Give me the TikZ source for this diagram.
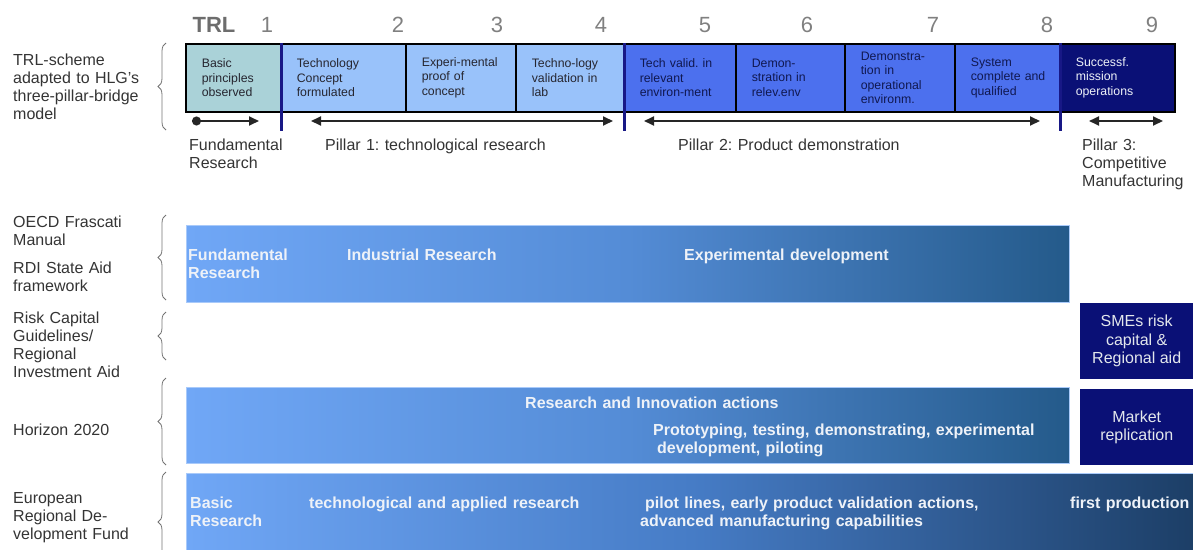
\documentclass[tikz,border=0pt]{standalone}
\usepackage{fontspec}
\setmainfont{Liberation Sans}
\usetikzlibrary{arrows.meta,positioning,decorations.pathreplacing}
\definecolor{trlteal}{RGB}{170,210,216}
\definecolor{trllight}{RGB}{153,194,250}
\definecolor{trlmid}{RGB}{76,112,238}
\definecolor{trlnavy}{RGB}{10,16,118}
\definecolor{pillarline}{RGB}{24,24,134}
\definecolor{barleft}{RGB}{112,167,246}
\definecolor{barmid}{RGB}{84,140,214}
\definecolor{barright}{RGB}{36,90,138}
\definecolor{erdfmid}{RGB}{70,124,198}
\definecolor{erdfright}{RGB}{28,62,102}
\definecolor{bartext}{RGB}{238,242,248}
\definecolor{labelgray}{RGB}{52,52,52}
\definecolor{numgray}{RGB}{128,128,128}
\definecolor{boxtext}{RGB}{38,38,48}
\definecolor{midtext}{RGB}{16,24,80}

\begin{document}
\frenchspacing
\hbadness=10000 \hfuzz=50pt
\begin{tikzpicture}[x=1pt,y=-1pt,
    trl node/.style={draw=black,line width=1.6pt,anchor=north west,inner xsep=16pt,inner ysep=0pt,
                     minimum height=68pt,align=left,font=\fontsize{12.3}{14.3}\selectfont},
    num node/.style={font=\fontsize{22}{22}\selectfont,text=numgray},
    side label/.style={anchor=base west,inner sep=0pt,text width=320pt,align=left,text=labelgray,
                       font=\fontsize{16}{18}\selectfont},
    bar node/.style={anchor=north west,inner sep=0pt,draw=barleft!60!white,line width=0.8pt},
    bar text/.style={anchor=base west,inner sep=0pt,text width=500pt,align=left,text=bartext,
                     font=\bfseries\fontsize{16}{17.5}\selectfont},
    aid node/.style={anchor=north west,inner sep=0pt,fill=trlnavy,text=bartext!90!gray,align=center,
                     minimum width=113pt,minimum height=76pt,font=\fontsize{16}{18.5}\selectfont},
    pillar arrow/.style={line width=1.8pt,black!85,{Triangle[length=10pt,width=9pt]}-{Triangle[length=10pt,width=9pt]}},
    pillar line/.style={line width=2.6pt,pillarline},
    side brace/.style={decorate,decoration={brace,amplitude=8pt},line width=0.8pt,black!55}]

\useasboundingbox (0,0) rectangle (1193,549);

\node[num node,font=\bfseries\fontsize{22}{22}\selectfont,text=numgray!85!black] (trl) at (214,25) {TRL};
\foreach \k/\xn in {1/267,2/398,3/497,4/601,5/705,6/807,7/933,8/1047,9/1152}
   \node[num node] (trl\k) at (\xn,25) {\k};

\foreach \n/\xa/\xb/\col/\tcol/\txt in {
   1/185/280/trlteal/boxtext/{Basic\\principles\\observed},
   2/280/405/trllight/boxtext/{Technology\\Concept\\formulated},
   3/405/515/trllight/boxtext/{Experi-mental\\proof~of\\concept},
   4/515/623/trllight/boxtext/{Techno-logy\\validation~in\\lab},
   5/623/735/trlmid/midtext/{Tech~valid.~in\\relevant\\environ-ment},
   6/735/844/trlmid/midtext/{Demon-\\stration~in\\relev.env},
   7/844/954/trlmid/midtext/{Demonstra-\\tion~in\\operational\\environm.},
   8/954/1059/trlmid/midtext/{System\\complete~and\\qualified},
   9/1059/1174/trlnavy/bartext/{Successf.\\mission\\operations}}
  {\pgfmathsetmacro{\boxw}{\xb-\xa-32}
   \node[trl node,fill=\col,text=\tcol,text width=\boxw pt] (box\n) at (\xa,43) {\txt};}

\foreach \n in {1,4,8}
   \draw[pillar line] (box\n.north east) -- ([yshift=-18pt]box\n.south east);

\coordinate (fund a) at (192,121);
\coordinate (fund b) at (259,121);
\coordinate (p1 a) at (311,121);
\coordinate (p1 b) at (613,121);
\coordinate (p2 a) at (644,121);
\coordinate (p2 b) at (1040,121);
\coordinate (p3 a) at (1089,121);
\coordinate (p3 b) at (1163,121);
\draw[line width=1.8pt,black!85,{Circle[length=9pt]}-{Triangle[length=10pt,width=9pt]}] (fund a) -- (fund b);
\draw[pillar arrow] (p1 a) -- (p1 b);
\draw[pillar arrow] (p2 a) -- (p2 b);
\draw[pillar arrow] (p3 a) -- (p3 b);

\node[side label] (fundlbl) at (189,150.5) {Fundamental\\Research};
\node[side label] (p1lbl) at (325,150.5) {Pillar 1: technological research};
\node[side label] (p2lbl) at (678,150.5) {Pillar 2: Product demonstration};
\node[side label] (p3lbl) at (1082,150.5) {Pillar 3:\\Competitive\\Manufacturing};

\node[side label] (trlscheme) at (13,65.5) {TRL-scheme\\adapted to HLG's\\three-pillar-bridge\\model};
\node[side label] (oecd) at (13,227.5) {OECD Frascati\\Manual};
\node[side label] (rdi) at (13,273.5) {RDI State Aid\\framework};
\node[side label] (riskcap) at (13,323.5) {Risk Capital\\Guidelines/\\Regional\\Investment Aid};
\node[side label] (horizon) at (13,435.5) {Horizon 2020};
\node[side label] (erdf) at (13,503.5) {European\\Regional De-\\velopment Fund};

\foreach \ya/\yb in {43/130,215/300,312/360,378/465,472/572}
   \draw[side brace] (166,\yb) -- (166,\ya);

\node[bar node,left color=barleft,right color=barright,middle color=barmid,
      minimum width=883pt,minimum height=77pt] (oecdbar) at (186,225) {};
\node[bar node,left color=barleft,right color=barright,middle color=barmid,
      minimum width=883pt,minimum height=76pt] (h2020bar) at (186,387) {};
\node[bar node,left color=barleft,right color=erdfright,middle color=erdfmid,
      minimum width=1010pt,minimum height=80pt] (erdfbar) at (186,473) {};

\node[aid node] (smes) at (1080,303) {SMEs risk\\capital \&\\Regional aid};
\node[aid node] (market) at (1080,389) {Market\\replication};

\node[bar text] (fundres) at (188,260.5) {Fundamental\\Research};
\node[bar text] (indres) at (347,260.5) {Industrial Research};
\node[bar text] (expdev) at (684,260.5) {Experimental development};

\node[bar text] (riaction) at (525,408.5) {Research and Innovation actions};
\node[bar text] (proto) at (653,435.5) {Prototyping, testing, demonstrating, experimental\\\hspace*{4pt}development, piloting};

\node[bar text] (basicres) at (190,508.5) {Basic\\Research};
\node[bar text] (techres) at (309,508.5) {technological and applied research};
\node[bar text] (pilot) at (640,508.5) {\hspace*{5pt}pilot lines, early product validation actions,\\advanced manufacturing capabilities};
\node[bar text] (firstprod) at (1070,508.5) {first production};

\end{tikzpicture}
\end{document}
